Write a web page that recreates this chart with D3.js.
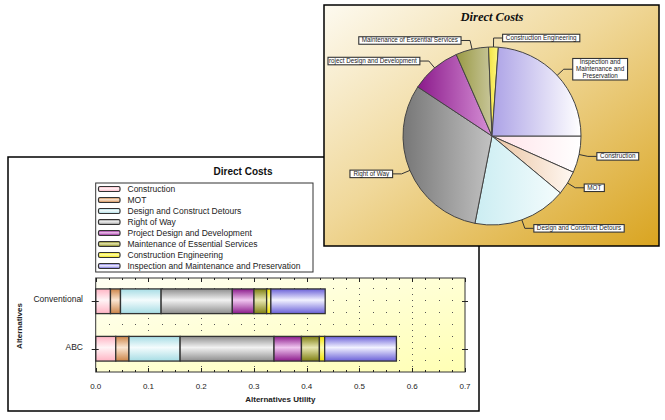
<!DOCTYPE html>
<html>
<head>
<meta charset="utf-8">
<script src="https://cdn.jsdelivr.net/npm/d3@7"></script>
<style>
  body { margin: 0; background: #fff; }
  svg { display: block; font-family: Arial, "Liberation Sans", sans-serif; }
</style>
</head>
<body>
<div id="chart"></div>
<script>
var categories = ["Construction", "MOT", "Design and Construct Detours", "Right of Way",
  "Project Design and Development", "Maintenance of Essential Services",
  "Construction Engineering", "Inspection and Maintenance and Preservation"];
var alternatives = ["Conventional", "ABC"];
var conventionalValues = [0.028, 0.019, 0.077, 0.135, 0.041, 0.024, 0.008, 0.103];
var abcValues = [0.038, 0.025, 0.097, 0.178, 0.052, 0.034, 0.010, 0.136];
var xTickValues = [0, 0.1, 0.2, 0.3, 0.4, 0.5, 0.6, 0.7];
var pieLabelLines = [["Construction"], ["MOT"], ["Design and Construct Detours"], ["Right of Way"],
  ["Project Design and Development"], ["Maintenance of Essential Services"],
  ["Construction Engineering"], ["Inspection and", "Maintenance and", "Preservation"]];

// bar colours: edge colour and the light band in the middle
var barEdge = ["#ffb4c4", "#cc8448", "#a6dce4", "#8e8e8e", "#8b1a8b", "#7f7f12", "#f2e200", "#6a60d8"];
var barLight = ["#fff4f6", "#fbe6d2", "#f4fcfd", "#f2f2f2", "#f0c6f0", "#e8e8b2", "#ffffb0", "#f2f2ff"];
// pie colours: left and right side of each slice
var pieLeft = ["#ffe2e8", "#eac4a2", "#cbedf2", "#777777", "#8b1a8b", "#999944", "#f3e244", "#aca2e6"];
var pieRight = ["#ffffff", "#fff8f2", "#f4fcfd", "#c2c2c2", "#d690d6", "#c8c69a", "#fff880", "#ffffff"];

var width = 665, height = 420;

var svg = d3.select("#chart").append("svg")
    .attr("width", width)
    .attr("height", height);

var defs = svg.append("defs");

categories.forEach(function(c, i) {
  var g = defs.append("linearGradient").attr("id", "bar" + i)
      .attr("x1", 0).attr("y1", 0).attr("x2", 0).attr("y2", 1);
  g.append("stop").attr("offset", 0).attr("stop-color", barEdge[i]);
  g.append("stop").attr("offset", 0.45).attr("stop-color", barLight[i]);
  g.append("stop").attr("offset", 1).attr("stop-color", barEdge[i]);

  var p = defs.append("linearGradient").attr("id", "pie" + i)
      .attr("x1", 0).attr("y1", 0).attr("x2", 1).attr("y2", 0);
  p.append("stop").attr("offset", 0).attr("stop-color", pieLeft[i]);
  p.append("stop").attr("offset", 1).attr("stop-color", pieRight[i]);
});

var plotBg = defs.append("linearGradient").attr("id", "plotBg")
    .attr("x1", 0).attr("y1", 0).attr("x2", 1).attr("y2", 1);
plotBg.append("stop").attr("offset", 0).attr("stop-color", "#fffff4");
plotBg.append("stop").attr("offset", 1).attr("stop-color", "#ffffb4");

var panelBg = defs.append("linearGradient").attr("id", "panelBg")
    .attr("x1", 0).attr("y1", 0).attr("x2", 1).attr("y2", 1);
panelBg.append("stop").attr("offset", 0).attr("stop-color", "#fdfaf0");
panelBg.append("stop").attr("offset", 0.45).attr("stop-color", "#f0d89a");
panelBg.append("stop").attr("offset", 1).attr("stop-color", "#d9a420");

// ---------- bar chart panel ----------
var left = svg.append("g");
left.append("rect")
    .attr("x", 8).attr("y", 157).attr("width", 471).attr("height", 254)
    .attr("fill", "#fff").attr("stroke", "#000").attr("stroke-width", 1.5);

left.append("text")
    .attr("x", 243).attr("y", 175)
    .attr("text-anchor", "middle")
    .style("font-size", "10px").style("font-weight", "bold")
    .attr("fill", "#111")
    .text("Direct Costs");

// legend
var legend = left.append("g");
legend.append("rect")
    .attr("x", 95.7).attr("y", 183).attr("width", 217.3).attr("height", 89)
    .attr("fill", "#fff").attr("stroke", "#333").attr("stroke-width", 1);
var item = legend.selectAll(".item")
    .data(categories)
    .enter().append("g")
    .attr("transform", function(d, i) { return "translate(0," + (189 + i * 11) + ")"; });
item.append("rect")
    .attr("x", 98.5).attr("y", -2.5).attr("width", 21.5).attr("height", 5).attr("rx", 1.5)
    .attr("fill", function(d, i) { return "url(#bar" + i + ")"; })
    .attr("stroke", "#333").attr("stroke-width", 1.2);
item.append("text")
    .attr("x", 127.5).attr("y", 3)
    .style("font-size", "8.5px")
    .attr("fill", "#222")
    .text(function(d) { return d; });

// plot
var x0 = 95.7, x1 = 465, yTop = 278, yBot = 372;
var x = d3.scaleLinear().domain([0, 0.7]).range([x0, x1]);
var y = d3.scaleBand().domain(alternatives).range([yTop, yBot])
    .paddingInner(0.48).paddingOuter(0.23);

left.append("rect")
    .attr("x", x0).attr("y", yTop).attr("width", x1 - x0).attr("height", yBot - yTop)
    .attr("fill", "url(#plotBg)");

var minorTicks = d3.range(0, 0.7001, 0.025);
var grid = left.append("g");
grid.selectAll("line")
    .data(minorTicks.filter(function(d) { return d > 0.001 && d < 0.699; }))
    .enter().append("line")
    .attr("x1", function(d) { return Math.round(x(d)) + 0.5; })
    .attr("x2", function(d) { return Math.round(x(d)) + 0.5; })
    .attr("y1", yTop + 10).attr("y2", yBot - 2)
    .attr("stroke", "#555").attr("stroke-width", 1)
    .attr("stroke-dasharray", function(d) {
      return Math.abs(d * 10 - Math.round(d * 10)) < 0.01 ? "1,5" : "1,11";
    });

var rows = alternatives.map(function(a, j) {
  var vals = j == 0 ? conventionalValues : abcValues;
  var row = {alt: a};
  categories.forEach(function(c, i) { row[c] = vals[i]; });
  return row;
});
var series = d3.stack().keys(categories)(rows);

left.append("g").selectAll("g")
    .data(series)
    .enter().append("g")
    .attr("fill", function(d, i) { return "url(#bar" + i + ")"; })
    .selectAll("rect")
    .data(function(d) { return d; })
    .enter().append("rect")
    .attr("x", function(d) { return x(d[0]); })
    .attr("width", function(d) { return x(d[1]) - x(d[0]); })
    .attr("y", function(d) { return y(d.data.alt); })
    .attr("height", y.bandwidth())
    .attr("stroke", "#333").attr("stroke-width", 1.3);

left.append("rect")
    .attr("x", x0).attr("y", yTop).attr("width", x1 - x0).attr("height", yBot - yTop)
    .attr("fill", "none").attr("stroke", "#333").attr("stroke-width", 1);

// x ticks top and bottom, pointing inwards
var tickG = left.append("g").attr("stroke", "#222").attr("stroke-width", 1);
minorTicks.forEach(function(d) {
  var major = Math.abs(d * 10 - Math.round(d * 10)) < 0.01;
  var len = major ? 4 : 2;
  var px = Math.round(x(d)) + 0.5;
  tickG.append("line").attr("x1", px).attr("x2", px).attr("y1", yTop).attr("y2", yTop + len);
  tickG.append("line").attr("x1", px).attr("x2", px).attr("y1", yBot).attr("y2", yBot - len);
});
alternatives.forEach(function(a) {
  var py = Math.round(y(a) + y.bandwidth() / 2) + 0.5;
  tickG.append("line").attr("x1", x0 - 4).attr("x2", x0 + 3).attr("y1", py).attr("y2", py);
  tickG.append("line").attr("x1", x1 - 3).attr("x2", x1 + 3).attr("y1", py).attr("y2", py);
});

left.append("g").selectAll("text")
    .data(xTickValues)
    .enter().append("text")
    .attr("x", function(d) { return x(d); })
    .attr("y", 388.5)
    .attr("text-anchor", "middle")
    .style("font-size", "8px")
    .attr("fill", "#222")
    .text(d3.format(".1f"));

left.append("g").selectAll("text")
    .data(alternatives)
    .enter().append("text")
    .attr("x", 83)
    .attr("y", function(d) { return y(d) + y.bandwidth() / 2 + 1; })
    .attr("text-anchor", "end")
    .style("font-size", "8.5px")
    .attr("fill", "#222")
    .text(function(d) { return d; });

left.append("text")
    .attr("x", (x0 + x1) / 2).attr("y", 402)
    .attr("text-anchor", "middle")
    .style("font-size", "8px").style("font-weight", "bold")
    .attr("fill", "#222")
    .text("Alternatives Utility");

left.append("text")
    .attr("transform", "translate(22,326) rotate(-90)")
    .attr("text-anchor", "middle")
    .style("font-size", "8px").style("font-weight", "bold")
    .attr("fill", "#222")
    .text("Alternatives");

// ---------- pie chart panel ----------
var panel = {x: 324, y: 5, w: 335, h: 241};
defs.append("clipPath").attr("id", "panelClip")
  .append("rect").attr("x", panel.x).attr("y", panel.y).attr("width", panel.w).attr("height", panel.h);

var right = svg.append("g");
right.append("rect")
    .attr("x", panel.x).attr("y", panel.y).attr("width", panel.w).attr("height", panel.h)
    .attr("fill", "url(#panelBg)");

var inner = right.append("g").attr("clip-path", "url(#panelClip)");

inner.append("text")
    .attr("x", 492).attr("y", 21)
    .attr("text-anchor", "middle")
    .style("font-family", "'Liberation Serif', 'DejaVu Serif', serif")
    .style("font-size", "12.5px").style("font-weight", "bold").style("font-style", "italic")
    .attr("fill", "#111")
    .text("Direct Costs");

// construction starts at 3 o'clock, inspection wraps round to the top
var cx = 492, cy = 136, r = 89;
var pie = d3.pie().sort(null).startAngle(Math.PI / 2).endAngle(Math.PI / 2 + 2 * Math.PI);
var arcs = pie(abcValues);
var arc = d3.arc().innerRadius(0).outerRadius(r);

var pieG = inner.append("g").attr("transform", "translate(" + cx + "," + cy + ")");
pieG.selectAll("path")
    .data(arcs)
    .enter().append("path")
    .attr("d", arc)
    .attr("fill", function(d, i) { return "url(#pie" + i + ")"; })
    .attr("stroke", "#444").attr("stroke-width", 1);

// labels with leader lines
var lineH = 7;
arcs.forEach(function(a, i) {
  var mid = (a.startAngle + a.endAngle) / 2;
  var sx = Math.sin(mid), sy = -Math.cos(mid);
  var p0 = [cx + r * sx, cy + r * sy];
  var p1 = [cx + (r + 9) * sx, cy + (r + 9) * sy];
  var side = sx >= 0 ? 1 : -1;
  var p2 = [p1[0] + side * 9, p1[1]];

  inner.append("polyline")
      .attr("points", [p0, p1, p2].map(function(p) { return p.join(","); }).join(" "))
      .attr("fill", "none").attr("stroke", "#333").attr("stroke-width", 1);

  var lab = inner.append("g");
  var lines = pieLabelLines[i];
  var txt = lab.append("text")
      .style("font-size", "6.3px")
      .attr("fill", "#222");
  lines.forEach(function(l, k) {
    txt.append("tspan").attr("x", 0).attr("dy", k == 0 ? 0 : lineH).text(l);
  });
  var tw = txt.node().getBBox().width;
  var bw = tw + 6, bh = lines.length * lineH + 0.5;
  var bx = side > 0 ? p2[0] : p2[0] - bw;
  var by = p1[1] - bh / 2;
  var clipped = false;
  if (bx < panel.x + 4) { bw -= (panel.x + 4 - bx); bx = panel.x + 4; clipped = true; }

  lab.insert("rect", "text")
      .attr("x", bx).attr("y", by).attr("width", bw).attr("height", bh)
      .attr("fill", "#fff").attr("stroke", "#333").attr("stroke-width", 1.1);

  if (clipped) {
    defs.append("clipPath").attr("id", "labClip" + i)
      .append("rect").attr("x", bx + 1).attr("y", by).attr("width", bw - 2).attr("height", bh);
    txt.attr("clip-path", "url(#labClip" + i + ")").attr("text-anchor", "end");
    txt.selectAll("tspan").attr("x", bx + bw - 3);
  } else {
    txt.attr("text-anchor", "middle");
    txt.selectAll("tspan").attr("x", bx + bw / 2);
  }
  txt.attr("y", by + 5.6);
  txt.selectAll("tspan").filter(function(d, k) { return k == 0; }).attr("y", by + 5.6);
});

right.append("rect")
    .attr("x", panel.x).attr("y", panel.y).attr("width", panel.w).attr("height", panel.h)
    .attr("fill", "none").attr("stroke", "#000").attr("stroke-width", 1.5);
</script>
</body>
</html>
